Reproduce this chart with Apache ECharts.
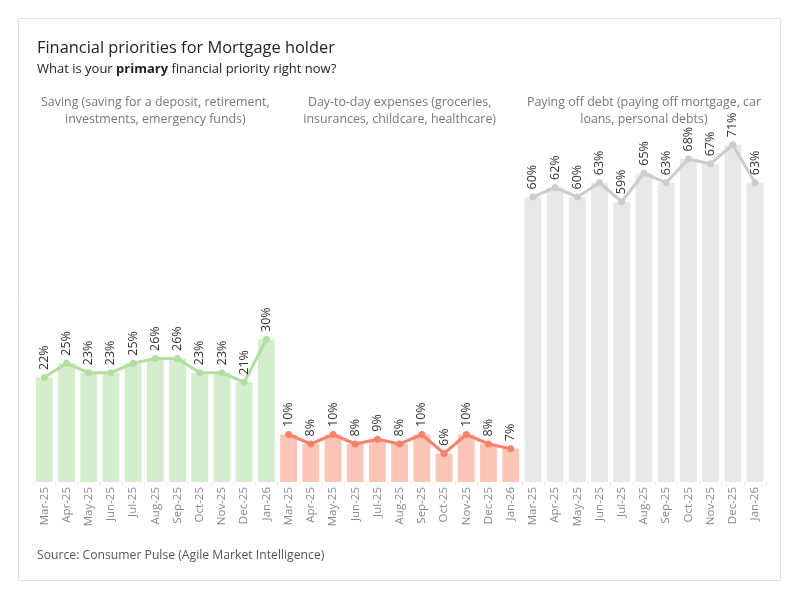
<!DOCTYPE html>
<html>
<head>
<meta charset="utf-8">
<script src="https://cdn.jsdelivr.net/npm/echarts@6/dist/echarts.min.js"></script>
<style>html,body{margin:0;padding:0;background:#fff;}#c{width:800px;height:600px;}</style>
</head>
<body>
<div id="c"></div>
<script>
var months = ['Mar-25','Apr-25','May-25','Jun-25','Jul-25','Aug-25','Sep-25','Oct-25','Nov-25','Dec-25','Jan-26'];
var saving = [22,25,23,23,25,26,26,23,23,21,30];
var dayToDay = [10,8,10,8,9,8,10,6,10,8,7];
var debt = [60,62,60,63,59,65,63,68,67,71,63];
var panelTitles = [
  'Saving (saving for a deposit, retirement,\ninvestments, emergency funds)',
  'Day-to-day expenses (groceries,\ninsurances, childcare, healthcare)',
  'Paying off debt (paying off mortgage, car\nloans, personal debts)'
];
var seriesData = [saving, dayToDay, debt];
var barColors = ['#d4edcc','#fdc5b8','#e8e8e8'];
var lineColors = ['#b2dea3','#f8826d','#cccccc'];

var FONT = 'Open Sans';
var chart = echarts.init(document.getElementById('c'), null, {renderer:'canvas'});
var cw = 244.3, left0 = 33.2, gTop = 125.75, gBottom = 118;
var grids = [], xAxes = [], yAxes = [], series = [], graphics = [];
for (var i = 0; i < 3; i++) {
  grids.push({left: left0 + i*cw, width: cw, top: gTop, bottom: gBottom});
  xAxes.push({type:'category', gridIndex:i, data: months, boundaryGap:true,
    axisLine:{show:false},
    axisTick:{show:true, length:3, lineStyle:{color:'#e4e4e4'}},
    axisLabel:{rotate:90, color:'#888', fontSize:11.5, fontFamily:FONT, margin:5}});
  yAxes.push({type:'value', gridIndex:i, min:0, max:75, show:false, splitLine:{show:false}});
  series.push({type:'bar', xAxisIndex:i, yAxisIndex:i, data: seriesData[i], barCategoryGap:'24%',
    itemStyle:{color: barColors[i]}, silent:true});
  series.push({type:'line', xAxisIndex:i, yAxisIndex:i, data: seriesData[i],
    symbol:'circle', symbolSize:7, lineStyle:{width:3, color: lineColors[i]},
    itemStyle:{color: lineColors[i]},
    label:{show:true, position:'top', rotate:90, align:'left', verticalAlign:'middle', distance:4,
      color:'#333', fontSize:12.5, fontFamily:FONT, formatter: function(p){return p.value + '%';}}});
  graphics.push({type:'text', x: left0 + i*cw + cw/2, y: 94,
    style:{text: panelTitles[i], textAlign:'center', fill:'#777', fontSize:12.4, fontFamily:FONT, lineHeight:17}});
}
graphics.push({type:'rect', shape:{x:18.5, y:18.5, width:762, height:562}, style:{fill:'none', stroke:'#e0e0e0', lineWidth:1}, z:-1});
graphics.push({type:'text', x:37, y:40, style:{text:'Financial priorities for Mortgage holder', fill:'#222', fontSize:16.4, fontFamily:FONT}});
graphics.push({type:'text', x:37, y:63, style:{
  text:'{a|What is your }{b|primary}{a| financial priority right now?}',
  rich:{a:{fontSize:13, fill:'#222', fontFamily:FONT}, b:{fontSize:13, fill:'#222', fontWeight:'bold', fontFamily:FONT}}}});
graphics.push({type:'text', x:37, y:550, style:{text:'Source: Consumer Pulse (Agile Market Intelligence)', fill:'#555', fontSize:12.2, fontFamily:FONT}});

chart.setOption({
  animation:false,
  backgroundColor:'#fff',
  grid: grids, xAxis: xAxes, yAxis: yAxes, series: series, graphic: graphics
});
</script>
</body>
</html>
